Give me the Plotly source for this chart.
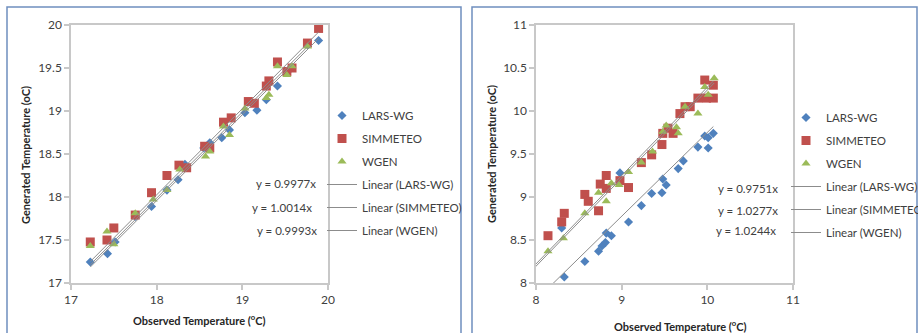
import plotly.graph_objects as go

# ---------------- Left panel data ----------------
L_lars_x = [17.225, 17.426, 17.515, 17.75, 17.94, 18.12, 18.25, 18.33, 18.55, 18.62, 18.76, 18.85, 19.03, 19.17, 19.28, 19.41, 19.55, 19.76, 19.89]
L_lars_y = [17.244, 17.341, 17.477, 17.775, 17.89, 18.08, 18.20, 18.38, 18.57, 18.63, 18.69, 18.78, 18.98, 19.01, 19.13, 19.29, 19.48, 19.77, 19.82]
L_simm_x = [17.225, 17.42, 17.50, 17.75, 17.94, 18.12, 18.26, 18.35, 18.56, 18.62, 18.78, 18.87, 19.07, 19.14, 19.28, 19.31, 19.41, 19.52, 19.58, 19.76, 19.89]
L_simm_y = [17.477, 17.50, 17.64, 17.79, 18.05, 18.25, 18.37, 18.34, 18.59, 18.57, 18.87, 18.92, 19.11, 19.09, 19.29, 19.35, 19.57, 19.46, 19.50, 19.79, 19.96]
L_wgen_x = [17.225, 17.42, 17.50, 17.75, 17.96, 18.12, 18.27, 18.57, 18.62, 18.78, 18.85, 19.03, 19.28, 19.31, 19.41, 19.52, 19.58, 19.76]
L_wgen_y = [17.43, 17.60, 17.45, 17.81, 17.97, 18.08, 18.32, 18.47, 18.53, 18.82, 18.72, 19.03, 19.15, 19.19, 19.52, 19.42, 19.52, 19.75]
L_slopes = [0.9977, 1.0014, 0.9993]
L_eq_text = ["y = 0.9977x", "y = 1.0014x", "y = 0.9993x"]

# ---------------- Right panel data ----------------
R_lars_x = [8.33, 8.30, 8.57, 8.73, 8.77, 8.81, 8.82, 8.88, 8.98, 9.08, 9.23, 9.35, 9.47, 9.48, 9.52, 9.66, 9.72, 9.89, 9.97, 10.01, 10.07, 10.01]
R_lars_y = [8.07, 8.64, 8.25, 8.37, 8.43, 8.47, 8.58, 8.55, 9.28, 8.71, 8.90, 9.04, 9.05, 9.21, 9.14, 9.33, 9.42, 9.58, 9.71, 9.57, 9.74, 9.69]
R_simm_x = [8.14, 8.30, 8.33, 8.57, 8.61, 8.73, 8.75, 8.82, 8.82, 8.98, 9.08, 9.23, 9.35, 9.47, 9.48, 9.54, 9.60, 9.68, 9.74, 9.80, 9.89, 9.97, 9.99, 10.07, 10.07]
R_simm_y = [8.55, 8.71, 8.81, 9.03, 8.95, 8.84, 9.15, 9.25, 9.10, 9.19, 9.11, 9.40, 9.49, 9.61, 9.74, 9.80, 9.74, 9.97, 10.05, 10.05, 10.15, 10.36, 10.15, 10.15, 10.30]
R_wgen_x = [8.14, 8.32, 8.57, 8.73, 8.82, 8.88, 8.97, 9.08, 9.23, 9.36, 9.48, 9.52, 9.64, 9.66, 9.74, 9.89, 9.97, 10.01, 10.08]
R_wgen_y = [8.37, 8.52, 8.81, 9.05, 8.95, 9.16, 9.14, 9.29, 9.40, 9.53, 9.76, 9.83, 9.81, 9.74, 10.05, 9.97, 10.28, 10.19, 10.38]
R_slopes = [0.9751, 1.0277, 1.0244]
R_eq_text = ["y = 0.9751x", "y = 1.0277x", "y = 1.0244x"]

series_names = ["LARS-WG", "SIMMETEO", "WGEN"]
colors = ["#4F81BD", "#C0504D", "#9BBB59"]
symbols = ["diamond", "square", "triangle-up"]
sizes = [7, 9, 8]
trend_colors = ["#8c8c8c", "#8c8c8c", "#8c8c8c"]

W, H = 918, 333
FONT = "Lato"

def px(x):
    return x / W

def py(y):
    return 1 - y / H

fig = go.Figure()

def add_panel(xs, ys, slopes, xa, ya, legend, x_start):
    for i in range(3):
        fig.add_trace(go.Scatter(
            x=xs[i], y=ys[i], mode="markers", name=series_names[i],
            marker=dict(color=colors[i], symbol=symbols[i], size=sizes[i],
                        line=dict(width=0)),
            xaxis=xa, yaxis=ya, legend=legend, legendgroup=legend + str(i)))
    for i in range(3):
        x0 = x_start if x_start is not None else min(xs[i])
        x1 = max(xs[i])
        fig.add_trace(go.Scatter(
            x=[x0, x1], y=[slopes[i] * x0, slopes[i] * x1], mode="lines",
            name="Linear (" + series_names[i] + ")",
            line=dict(color=trend_colors[i], width=1),
            xaxis=xa, yaxis=ya, legend=legend, legendgroup=legend + "t" + str(i)))

add_panel([L_lars_x, L_simm_x, L_wgen_x], [L_lars_y, L_simm_y, L_wgen_y], L_slopes, "x", "y", "legend", None)
add_panel([R_lars_x, R_simm_x, R_wgen_x], [R_lars_y, R_simm_y, R_wgen_y], R_slopes, "x2", "y2", "legend2", 7.8)

axis_common = dict(showgrid=False, zeroline=False, showline=True, mirror=True,
                   linecolor="#c8c8c8", linewidth=1.5, ticks="outside", ticklen=5,
                   tickcolor="#c8c8c8", tickwidth=1.5,
                   tickfont=dict(family=FONT, size=12, color="#404040"))

legend_common = dict(bgcolor="rgba(0,0,0,0)", borderwidth=0, tracegroupgap=4,
                     font=dict(family=FONT, size=11.5, color="#404040"),
                     xanchor="left", yanchor="top", itemwidth=30)

fig.update_layout(
    width=W, height=H, margin=dict(l=0, r=0, t=0, b=0, autoexpand=False),
    paper_bgcolor="white", plot_bgcolor="white",
    xaxis=dict(domain=[px(71), px(328)], range=[17, 20], dtick=1, anchor="y", **axis_common),
    yaxis=dict(domain=[py(283), py(25)], range=[17, 20], dtick=0.5, anchor="x", **axis_common),
    xaxis2=dict(domain=[px(536), px(793)], range=[8, 11], dtick=1, anchor="y2", **axis_common),
    yaxis2=dict(domain=[py(283), py(25)], range=[8, 11], dtick=0.5, anchor="x2", **axis_common),
    legend=dict(x=px(322), y=py(101), **legend_common),
    legend2=dict(x=px(786), y=py(103), **legend_common),
    showlegend=True,
)

annotations = []
# equations
L_eq_pos = [(318, 183), (314, 207), (319, 230)]
R_eq_pos = [(780, 188), (780, 210), (778, 230)]
for txt, (x, y) in zip(L_eq_text + R_eq_text, L_eq_pos + R_eq_pos):
    annotations.append(dict(x=px(x), y=py(y), xref="paper", yref="paper", text=txt,
                            showarrow=False, xanchor="right", yanchor="middle",
                            font=dict(family=FONT, size=11.5, color="#404040")))
# axis titles
for x, y in [(199, 319), (680, 325)]:
    annotations.append(dict(x=px(x), y=py(y), xref="paper", yref="paper",
                            text="<b>Observed Temperature (<sup>o</sup>C)</b>",
                            showarrow=False, xanchor="center", yanchor="middle",
                            font=dict(family=FONT, size=11, color="#262626")))
for x, y in [(25, 155), (491, 154)]:
    annotations.append(dict(x=px(x), y=py(y), xref="paper", yref="paper",
                            text="<b>Generated Temperature (oC)</b>", textangle=-90,
                            showarrow=False, xanchor="center", yanchor="middle",
                            font=dict(family=FONT, size=11, color="#262626")))
fig.update_layout(annotations=annotations)

# panel borders
fig.update_layout(shapes=[
    dict(type="rect", xref="paper", yref="paper", x0=px(7), x1=px(461), y0=py(340), y1=py(7),
         line=dict(color="#6f8fbf", width=1.5)),
    dict(type="rect", xref="paper", yref="paper", x0=px(472), x1=px(917), y0=py(340), y1=py(7),
         line=dict(color="#6f8fbf", width=1.5)),
])

fig.write_html("out.html")
